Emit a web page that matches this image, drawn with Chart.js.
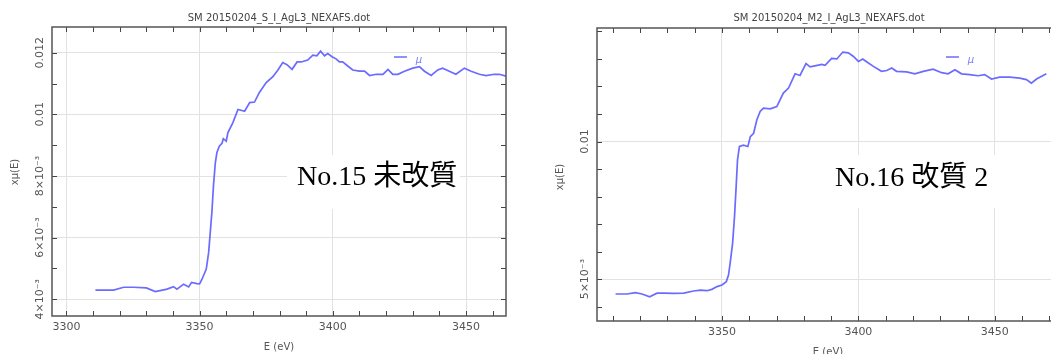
<!DOCTYPE html>
<html>
<head>
<meta charset="utf-8">
<script src="https://cdn.jsdelivr.net/npm/chart.js@4.4.1/dist/chart.umd.min.js"></script>
<style>
html, body { margin: 0; background: #fff; overflow: hidden; }
#boxLeft { position: absolute; left: 0; top: 0; width: 530px; height: 354px; }
#boxRight { position: absolute; left: 530px; top: 0; width: 540px; height: 354px; }
</style>
</head>
<body>
<div id="boxLeft"><canvas id="chartLeft"></canvas></div>
<div id="boxRight"><canvas id="chartRight"></canvas></div>
<script>
// Données : No.15 (gauche)
var leftEnergy = [3310.9, 3317.7, 3321.5, 3325.2, 3330.0, 3333.4, 3337.8, 3340.2, 3341.5, 3344.0,
    3345.9, 3347.0, 3349.0, 3350.0, 3350.9, 3352.5, 3353.4, 3354.0, 3354.6, 3355.2,
    3355.9, 3356.5, 3357.4, 3358.4, 3358.9, 3360.0, 3360.6, 3362.5, 3364.4, 3366.9,
    3368.8, 3370.6, 3372.5, 3375.0, 3377.5, 3379.4, 3381.2, 3382.8, 3384.7, 3386.6,
    3388.1, 3390.6, 3392.5, 3394.0, 3395.4, 3396.9, 3398.1, 3399.7, 3401.2, 3402.5,
    3403.7, 3405.6, 3407.5, 3410.0, 3411.9, 3413.8, 3416.3, 3418.8, 3420.7, 3422.5,
    3424.4, 3426.9, 3430.0, 3432.5, 3434.4, 3436.9, 3439.4, 3441.2, 3443.7, 3446.2,
    3449.4, 3451.9, 3455.0, 3457.5, 3460.6, 3462.5, 3465.0];
var leftMu = [0.00430, 0.00430, 0.00439, 0.00439, 0.00437, 0.00425, 0.00433, 0.00441, 0.00433, 0.00449,
    0.00440, 0.00455, 0.00451, 0.00450, 0.00465, 0.00498, 0.00552, 0.00617, 0.00681, 0.00768,
    0.00843, 0.00876, 0.00897, 0.00906, 0.00921, 0.00913, 0.00940, 0.00973, 0.01016, 0.01010,
    0.01038, 0.01040, 0.01072, 0.01103, 0.01122, 0.01144, 0.01168, 0.01161, 0.01146, 0.01170,
    0.01170, 0.01176, 0.01192, 0.01190, 0.01205, 0.01190, 0.01197, 0.01187, 0.01180, 0.01170,
    0.01170, 0.01157, 0.01144, 0.01140, 0.01140, 0.01126, 0.01130, 0.01130, 0.01146, 0.01130,
    0.01130, 0.01140, 0.01150, 0.01155, 0.01140, 0.01126, 0.01144, 0.01150, 0.01140, 0.01130,
    0.01150, 0.01140, 0.01130, 0.01126, 0.01130, 0.01130, 0.01124];

// Données : No.16 (droite)
var rightEnergy = [3311.0, 3315.2, 3318.3, 3320.7, 3323.5, 3326.2, 3328.6, 3332.3, 3336.0, 3339.6,
    3342.1, 3344.5, 3346.3, 3348.2, 3350.0, 3351.6, 3352.4, 3353.0, 3353.9, 3354.6,
    3355.2, 3355.7, 3356.4, 3357.9, 3359.5, 3360.4, 3361.6, 3362.8, 3364.0, 3365.2,
    3367.7, 3370.1, 3372.5, 3374.4, 3376.8, 3378.6, 3380.8, 3382.3, 3384.5, 3386.6,
    3387.8, 3390.2, 3392.1, 3394.3, 3396.3, 3398.2, 3400.0, 3401.6, 3403.0, 3405.5,
    3408.5, 3410.4, 3412.2, 3414.0, 3417.7, 3420.7, 3423.8, 3427.4, 3430.5, 3432.9,
    3435.4, 3437.8, 3440.8, 3443.9, 3446.3, 3448.8, 3451.8, 3455.5, 3459.1, 3461.6,
    3463.4, 3465.3, 3468.9];
var rightMu = [0.00446, 0.00446, 0.00451, 0.00446, 0.00436, 0.00449, 0.00449, 0.00448, 0.00449, 0.00457,
    0.00460, 0.00458, 0.00463, 0.00473, 0.00479, 0.00491, 0.00515, 0.00558, 0.00630, 0.00727,
    0.00836, 0.00933, 0.00982, 0.00987, 0.00982, 0.01018, 0.01030, 0.01079, 0.01109, 0.01121,
    0.01119, 0.01127, 0.01176, 0.01194, 0.01246, 0.01240, 0.01283, 0.01271, 0.01276, 0.01280,
    0.01277, 0.01302, 0.01300, 0.01325, 0.01322, 0.01309, 0.01291, 0.01300, 0.01290, 0.01273,
    0.01255, 0.01258, 0.01267, 0.01255, 0.01253, 0.01246, 0.01255, 0.01263, 0.01250, 0.01246,
    0.01261, 0.01246, 0.01243, 0.01239, 0.01243, 0.01227, 0.01234, 0.01234, 0.01230, 0.01225,
    0.01212, 0.01227, 0.01246];

// Graduations
var leftXTicks = [3300, 3310, 3320, 3330, 3340, 3350, 3360, 3370, 3380, 3390, 3400, 3410, 3420, 3430, 3440, 3450, 3460];
var rightXTicks = [3310, 3320, 3330, 3340, 3350, 3360, 3370, 3380, 3390, 3400, 3410, 3420, 3430, 3440, 3450, 3460, 3470];
var xLabelValues = [3300, 3350, 3400, 3450];
var leftYTicks = [0.004, 0.005, 0.006, 0.007, 0.008, 0.009, 0.01, 0.011, 0.012];
var leftYMajor = [0.004, 0.006, 0.008, 0.01, 0.012];
var leftYLabels = ['4×10⁻³', '6×10⁻³', '8×10⁻³', '0.01', '0.012'];
var rightYTicks = [0.004, 0.005, 0.006, 0.007, 0.008, 0.009, 0.01, 0.011, 0.012, 0.013, 0.014];
var rightYMajor = [0.005, 0.01];
var rightYLabels = ['5×10⁻³', '0.01'];

function makeChart(canvasId, cfg) {
    var deco = {
        id: 'deco',
        beforeDatasetsDraw: function (chart) {
            var c = chart.ctx;
            c.save();
            // cadre blanc derrière l'annotation
            c.fillStyle = '#fff';
            c.fillRect(cfg.box[0], cfg.box[1], cfg.box[2], cfg.box[3]);
            c.fillStyle = '#000';
            c.textBaseline = 'alphabetic';
            c.textAlign = 'left';
            c.font = '28px "Liberation Serif", "Noto Sans CJK JP", serif';
            c.fillText(cfg.note, cfg.noteX, cfg.noteY);
            c.restore();
        },
        afterDraw: function (chart) {
            var c = chart.ctx, a = chart.chartArea;
            var xs = chart.scales.x, ys = chart.scales.y;
            c.save();
            // graduations vers l'intérieur
            c.strokeStyle = '#444';
            c.lineWidth = 1;
            c.beginPath();
            cfg.xTicks.forEach(function (v) {
                var px = Math.round(xs.getPixelForValue(v)) + 0.5;
                c.moveTo(px, a.bottom); c.lineTo(px, a.bottom - 5);
                c.moveTo(px, a.top); c.lineTo(px, a.top + 5);
            });
            cfg.yTicks.forEach(function (v) {
                var py = Math.round(ys.getPixelForValue(v)) + 0.5;
                c.moveTo(a.left, py); c.lineTo(a.left + 5, py);
                c.moveTo(a.right, py); c.lineTo(a.right - 5, py);
            });
            c.stroke();
            // cadre
            c.strokeStyle = '#555';
            c.lineWidth = 1.5;
            c.strokeRect(a.left, a.top, a.right - a.left, a.bottom - a.top);

            c.fillStyle = '#555';
            c.textAlign = 'center';
            c.textBaseline = 'middle';
            // étiquettes de l'axe y, tournées
            c.font = '11px "DejaVu Sans", sans-serif';
            cfg.yMajor.forEach(function (v, i) {
                c.save();
                c.translate(cfg.yLabelX, ys.getPixelForValue(v));
                c.rotate(-Math.PI / 2);
                c.fillText(cfg.yLabels[i], 0, 0);
                c.restore();
            });
            c.font = '10px "DejaVu Sans", sans-serif';
            c.save();
            c.translate(cfg.yTitleX, cfg.yTitleY);
            c.rotate(-Math.PI / 2);
            c.fillText('xμ(E)', 0, 0);
            c.restore();
            c.fillText('E (eV)', cfg.xTitleX, cfg.xTitleY);

            // titre
            c.fillStyle = '#444';
            c.fillText(cfg.title, cfg.titleX, 18);

            // légende
            c.strokeStyle = '#6b6bff';
            c.lineWidth = 1.5;
            c.beginPath();
            c.moveTo(cfg.legendX, 57); c.lineTo(cfg.legendX + 13, 57);
            c.stroke();
            c.fillStyle = '#7b7bf0';
            c.font = 'italic 10px "DejaVu Sans", sans-serif';
            c.fillText('μ', cfg.legendX + 25, 60);
            c.restore();
        }
    };

    var points = cfg.energy.map(function (e, i) { return { x: e, y: cfg.mu[i] }; });

    return new Chart(document.getElementById(canvasId).getContext('2d'), {
        type: 'scatter',
        data: {
            datasets: [{
                label: 'μ',
                data: points,
                showLine: true,
                borderColor: '#6b6bff',
                borderWidth: 1.7,
                pointRadius: 0,
                tension: 0
            }]
        },
        options: {
            responsive: true,
            maintainAspectRatio: false,
            animation: false,
            layout: { padding: { left: 0, top: cfg.top, right: cfg.right, bottom: 0 } },
            plugins: {
                legend: { display: false },
                title: { display: false },
                tooltip: { enabled: false }
            },
            scales: {
                x: {
                    type: 'linear',
                    min: cfg.xMin,
                    max: cfg.xMax,
                    afterBuildTicks: function (s) {
                        s.ticks = cfg.xTicks.map(function (v) { return { value: v }; });
                    },
                    afterFit: function (s) { s.height = cfg.xAxisHeight; },
                    ticks: {
                        autoSkip: false,
                        maxRotation: 0,
                        padding: 5,
                        color: '#555',
                        font: { family: '"DejaVu Sans", sans-serif', size: 11 },
                        callback: function (v) { return xLabelValues.indexOf(v) >= 0 ? String(v) : ''; }
                    },
                    grid: {
                        drawTicks: false,
                        color: function (c) {
                            return c.tick && xLabelValues.indexOf(c.tick.value) >= 0 ? '#e2e2e2' : 'rgba(0,0,0,0)';
                        }
                    },
                    border: { display: false }
                },
                y: {
                    type: 'linear',
                    min: cfg.yMin,
                    max: cfg.yMax,
                    afterBuildTicks: function (s) {
                        s.ticks = cfg.yTicks.map(function (v) { return { value: v }; });
                    },
                    afterFit: function (s) { s.width = cfg.yAxisWidth; },
                    ticks: { display: false },
                    grid: {
                        drawTicks: false,
                        color: function (c) {
                            return c.tick && cfg.yMajor.indexOf(c.tick.value) >= 0 ? '#e2e2e2' : 'rgba(0,0,0,0)';
                        }
                    },
                    border: { display: false }
                }
            }
        },
        plugins: [deco]
    });
}

makeChart('chartLeft', {
    energy: leftEnergy, mu: leftMu,
    xTicks: leftXTicks, yTicks: leftYTicks, yMajor: leftYMajor, yLabels: leftYLabels,
    xMin: 3294.6, xMax: 3465, yMin: 0.003458, yMax: 0.012834,
    top: 27, right: 24, yAxisWidth: 52, xAxisHeight: 38,
    title: 'SM 20150204_S_I_AgL3_NEXAFS.dot', titleX: 279,
    yLabelX: 40, yTitleX: 15, yTitleY: 172, xTitleX: 279, xTitleY: 347,
    legendX: 394,
    note: 'No.15 未改質', noteX: 297, noteY: 185, box: [287, 155, 173, 54]
});

// le cadre de droite dépasse le bord de l'image
makeChart('chartRight', {
    energy: rightEnergy, mu: rightMu,
    xTicks: rightXTicks, yTicks: rightYTicks, yMajor: rightYMajor, yLabels: rightYLabels,
    xMin: 3304.2, xMax: 3473.9, yMin: 0.00348, yMax: 0.014124,
    top: 28, right: 10, yAxisWidth: 67, xAxisHeight: 33,
    title: 'SM 20150204_M2_I_AgL3_NEXAFS.dot', titleX: 299,
    yLabelX: 55, yTitleX: 30, yTitleY: 177, xTitleX: 298, xTitleY: 352,
    legendX: 416,
    note: 'No.16 改質 2', noteX: 305, noteY: 186, box: [298, 155, 175, 53]
});
</script>
</body>
</html>
